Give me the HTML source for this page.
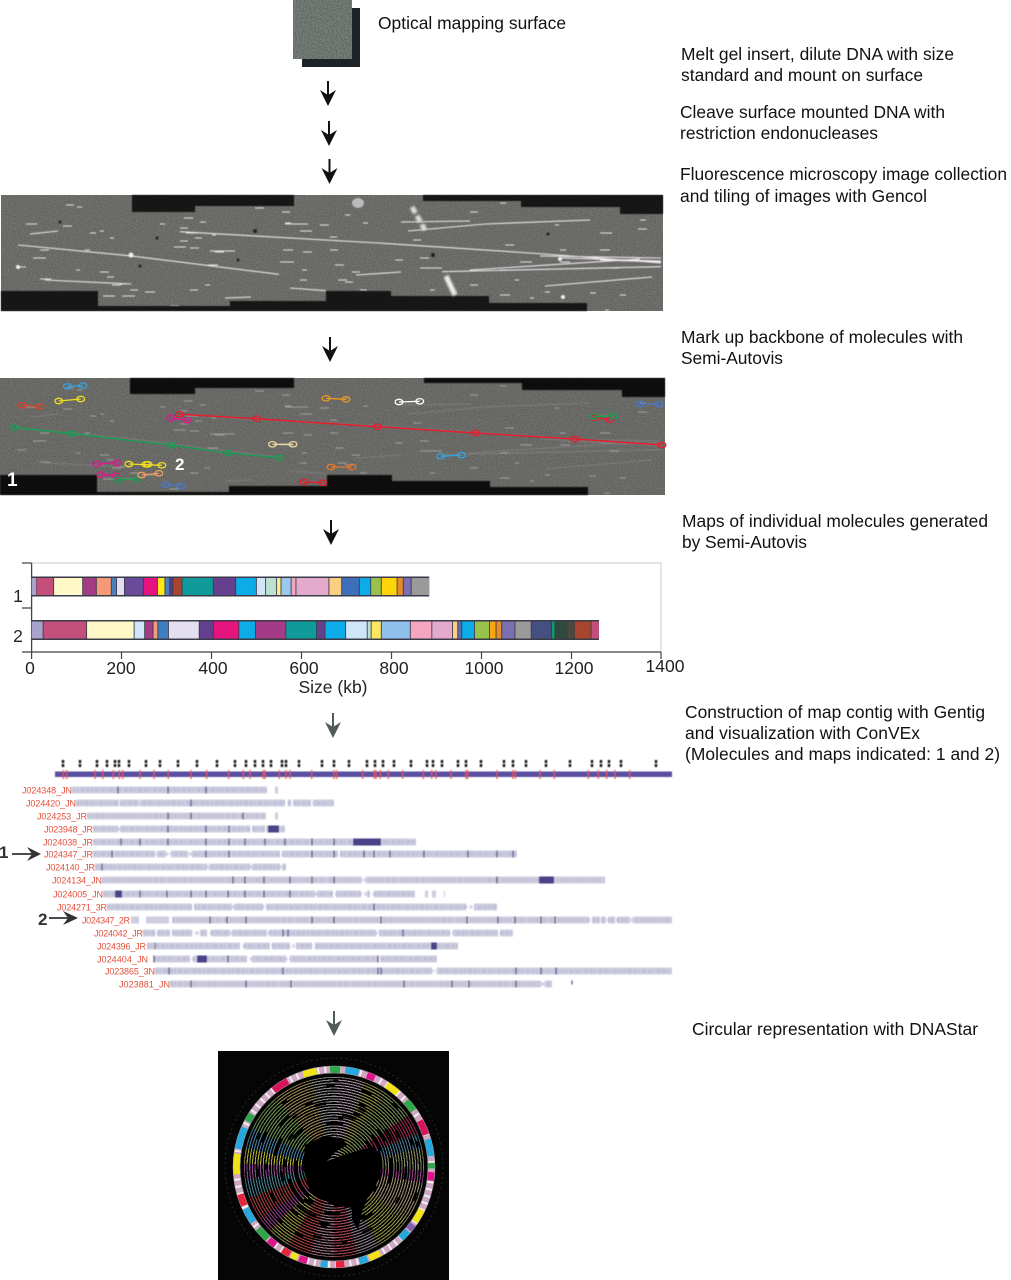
<!DOCTYPE html>
<html><head><meta charset="utf-8"><title>Optical mapping workflow</title>
<style>
html,body{margin:0;padding:0;background:#fff}
#p{position:relative;width:1011px;height:1280px;overflow:hidden;background:#fff}
svg{position:absolute;left:0;top:0}
#c{position:absolute;left:244px;top:1077px;width:180px;height:180px;border-radius:50%;opacity:.85;filter:blur(.35px);
background:repeating-radial-gradient(circle at center,rgba(0,0,0,0) 0 1.1px,#000 1.1px 2.7px),
conic-gradient(#b8a0b0 0 20deg,#a8a858 20deg 35deg,#8aa060 35deg 55deg,#b03058 55deg 68deg,#4f88a8 68deg 78deg,#9a9a70 78deg 92deg,#a84898 92deg 100deg,#b0a080 100deg 125deg,#a8a850 125deg 150deg,#a090a0 150deg 165deg,#c05060 165deg 180deg,#b08090 180deg 195deg,#c04848 195deg 210deg,#a8a850 210deg 225deg,#a84898 225deg 235deg,#c04848 235deg 250deg,#5090a0 250deg 262deg,#a050a0 262deg 272deg,#c8c838 272deg 282deg,#4f90b8 282deg 295deg,#80a860 295deg 320deg,#b09a60 320deg 345deg,#a0a0a0 345deg 360deg)}
.t{font:17.4px "Liberation Sans",sans-serif;fill:#111}
.a{font:17.5px "Liberation Sans",sans-serif;fill:#222}
.r{font:9px "Liberation Sans",sans-serif;fill:#e4503c}
.m ellipse{rx:3.900px;ry:2.700px}
</style></head><body><div id="p">
<svg width="1011" height="1280" viewBox="0 0 1011 1280">
<defs>
<filter id="g" x="0" y="0" width="100%" height="100%"><feTurbulence type="fractalNoise" baseFrequency=".85" numOctaves="2" seed="4"/><feColorMatrix values="0 0 0 0 0 0 0 0 0 0 0 0 0 0 0 1.6 0 0 0 -.55"/></filter>
<filter id="b"><feGaussianBlur stdDeviation=".45"/></filter>
<filter id="b2"><feGaussianBlur stdDeviation="1"/></filter>
<g id="arr"><path d="M0 0V15" stroke="#111" stroke-width="2" fill="none"/><path d="M-8 9L0 14L8 9L0 25Z" fill="#111"/></g>
<g id="arg"><path d="M0 0V15" stroke="#4f5a5a" stroke-width="2" fill="none"/><path d="M-8 9L0 14L8 9L0 25Z" fill="#4f5a5a"/></g>
<path id="dash" fill="none" stroke="#e4e4e4" stroke-width="1" d="M66 205h8M77 207h5M26 224h11M63 226h9M90 233h6M100 231h4M184 218h9M200 222h6M186 233h12M212 235h4M174 247h12M215 252h9M195 238h7M255 208h9M282 212h8M285 223h6M285 224h23M300 231h12M320 225h9M330 237h7M345 215h5M363 223h5M283 250h10M303 252h9M280 262h14M330 250h8M335 265h9M302 270h5M40 250h9M85 250h5M33 258h13M17 267h9M76 270h4M110 238h4M160 224h5M180 228h8M180 241h8M190 248h9M210 251h25M208 265h10M300 280h7M338 280h9M352 272h8M100 272h9M40 279h11M107 277h7M112 285h9M120 284h4M130 290h8M103 296h12M122 296h13M145 292h10M170 306h9M190 290h8M205 285h5M345 282h8M360 290h7M420 268h22M470 212h8M500 203h6M555 225h4M600 233h12M640 220h6M638 229h9M505 245h9M560 250h6M610 268h9M500 270h8M515 280h4M500 295h10M530 298h4M545 292h5M590 293h6M605 310h4M620 295h6M430 290h5M470 285h8M520 262h12M560 262h10M600 250h10M413 240h8M420 258h9M395 260h8"/>
<path id="long" fill="none" stroke="#eee8ee" stroke-width="1.100" d="M18 245L129 255.700L279 274.300M180 231.700L378 243L545 254L661 263M485 224L590 220M408 231L485 224M401 222L470 221M442 271.700L661 266.700M545 286L652 277M45 280L131 284M30 234L58 231M356 275L401 272M540 256L661 258M560 258L661 261M600 260L661 262M470 270L640 259M290 288L326 290.700M225 298L251 297"/>
</defs>

<!-- surface square -->
<rect x="302" y="8" width="58" height="59" fill="#1c2226"/>
<rect x="293" y="0" width="59" height="59" fill="#7b857f"/>
<rect x="293" y="0" width="59" height="59" filter="url(#g)" opacity=".45"/>

<text class="t" x="378" y="29" textLength="188">Optical mapping surface</text>
<text class="t" x="681" y="60" textLength="273">Melt gel insert, dilute DNA with size</text>
<text class="t" x="681" y="81" textLength="242">standard and mount on surface</text>
<text class="t" x="680" y="118" textLength="265">Cleave surface mounted DNA with</text>
<text class="t" x="680" y="139" textLength="198">restriction endonucleases</text>
<text class="t" x="680" y="180" textLength="327">Fluorescence microscopy image collection</text>
<text class="t" x="680" y="202" textLength="247">and tiling of images with Gencol</text>
<text class="t" x="681" y="343" textLength="282">Mark up backbone of molecules with</text>
<text class="t" x="681" y="364" textLength="102">Semi-Autovis</text>
<text class="t" x="682" y="527" textLength="306">Maps of individual molecules generated</text>
<text class="t" x="682" y="548" textLength="125">by Semi-Autovis</text>
<text class="t" x="685" y="718" textLength="300">Construction of map contig with Gentig</text>
<text class="t" x="685" y="739" textLength="235">and visualization with ConVEx</text>
<text class="t" x="685" y="760" textLength="315">(Molecules and maps indicated: 1 and 2)</text>
<text class="t" x="692" y="1035" textLength="286">Circular representation with DNAStar</text>

<use href="#arr" x="328" y="81"/><use href="#arr" x="329" y="121"/><use href="#arr" x="329.500" y="159"/>
<use href="#arr" x="330" y="337"/><use href="#arr" x="331" y="520"/><use href="#arg" x="333" y="713"/><use href="#arg" x="334" y="1011"/>

<!-- panel 1 -->
<rect x="1" y="195" width="662" height="116" fill="#747470"/>
<rect x="1" y="195" width="662" height="116" filter="url(#g)" opacity=".3"/>
<g filter="url(#b)"><use href="#dash"/><use href="#long"/></g>
<g fill="#181818" filter="url(#b)">
<path d="M132 195H294V206H195V212H132Z"/>
<path d="M423 195H663V214H620V207H521V201H423Z"/>
<path d="M1 291H98V306H230V301H326V291H391V296H489V303H587V311H1Z"/>
</g>
<g filter="url(#b)"><g fill="#eee"><circle cx="131" cy="255" r="2.500"/><circle cx="560" cy="259" r="2"/><circle cx="563" cy="297" r="2"/><circle cx="18" cy="267" r="2"/><ellipse cx="358" cy="203" rx="6" ry="5" fill="#bbb"/></g>
<g fill="#222"><circle cx="60" cy="222" r="1.500"/><circle cx="255" cy="231" r="2"/><circle cx="157" cy="238" r="1.500"/><circle cx="238" cy="260" r="1.500"/><circle cx="433" cy="255" r="2"/><circle cx="140" cy="266" r="1.500"/><circle cx="548" cy="234" r="1.500"/></g></g>
<g filter="url(#b2)"><path d="M412 207L425 230" stroke="#ddd" stroke-width="5" stroke-dasharray="7 3"/>
<path d="M446 276L455 295" stroke="#eee" stroke-width="5"/></g>

<!-- panel 2 -->
<rect x="0" y="378" width="665" height="117" fill="#72726f"/>
<rect x="0" y="378" width="665" height="117" filter="url(#g)" opacity=".3"/>
<g filter="url(#b)"><use href="#dash" x="0" y="183" opacity=".45"/><use href="#long" x="0" y="183" opacity=".15"/></g>
<g fill="#0d0d0d" filter="url(#b)">
<path d="M130 378H294V388H195V394H130Z"/>
<path d="M424 378H665V397H622V390H522V383H424Z"/>
<path d="M0 475H97V492H229V486H327V475H392V481H490V487H588V495H0Z"/>
</g>
<g class="m" fill="none" stroke-width="1.300">
<g stroke="#34a4dc"><path d="M67.400 386.300L82.800 385.700"/><ellipse cx="67.400" cy="386.300"/><ellipse cx="82.800" cy="385.700"/>
<path d="M440.800 456.300L461.400 455"/><ellipse cx="440.800" cy="456.300"/><ellipse cx="461.400" cy="455"/></g>
<g stroke="#f0e020"><path d="M58.800 401L80.700 399"/><ellipse cx="58.800" cy="401"/><ellipse cx="80.700" cy="399"/>
<path d="M128.800 464L161.800 465.300"/><ellipse cx="128.800" cy="464"/><ellipse cx="146" cy="464.300"/><ellipse cx="148" cy="464.300"/><ellipse cx="161.800" cy="465.300"/></g>
<g stroke="#d8452c"><path d="M22.300 405.300L40 406.700"/><ellipse cx="22.300" cy="405.300"/><ellipse cx="40" cy="406.700"/></g>
<g stroke="#e81c2c"><path d="M179.400 414.300L256.700 418.700L377.700 426.700L475.500 433L575 439L662 445" stroke-width="1.500"/><ellipse cx="179.400" cy="414.300"/><ellipse cx="256.700" cy="418.700"/><ellipse cx="377.700" cy="426.700"/><ellipse cx="475.500" cy="433"/><ellipse cx="575" cy="439"/><ellipse cx="662" cy="445"/>
<path d="M595 417.700L610 419.700"/><ellipse cx="595" cy="417.700"/><ellipse cx="610" cy="419.700"/>
<path d="M304 482L322.700 482.700"/><ellipse cx="304" cy="482"/><ellipse cx="322.700" cy="482.700"/></g>
<g stroke="#e0188c"><path d="M170.800 418L187 420.300"/><ellipse cx="170.800" cy="418"/><ellipse cx="187" cy="420.300"/>
<path d="M96.600 464L116.700 463"/><ellipse cx="96.600" cy="464"/><ellipse cx="116.700" cy="463"/>
<path d="M100.900 474.700L115.900 475.700"/><ellipse cx="100.900" cy="474.700"/><ellipse cx="115.900" cy="475.700"/></g>
<g stroke="#14a050"><path d="M14 427.300L72 433.700L171.700 445.300L228.300 453L279 457.700"/><ellipse cx="14" cy="427.300"/><ellipse cx="72" cy="433.700"/><ellipse cx="171.700" cy="445.300"/><ellipse cx="228.300" cy="453"/><ellipse cx="279" cy="457.700"/>
<path d="M594.400 416.700L613.700 415.700"/><ellipse cx="594.400" cy="416.700"/><ellipse cx="613.700" cy="415.700"/>
<path d="M118 479.700L137.300 479"/><ellipse cx="118" cy="479.700"/><ellipse cx="137.300" cy="479"/></g>
<g stroke="#ec9a20"><path d="M326 398.300L346 399.300"/><ellipse cx="326" cy="398.300"/><ellipse cx="346" cy="399.300"/></g>
<g stroke="#fff"><path d="M399 402L419.700 401.300"/><ellipse cx="399" cy="402"/><ellipse cx="419.700" cy="401.300"/></g>
<g stroke="#4a78c8"><path d="M640 404L659 404.300"/><ellipse cx="640" cy="404"/><ellipse cx="659" cy="404.300"/>
<path d="M165.700 484.700L181 486"/><ellipse cx="165.700" cy="484.700"/><ellipse cx="181" cy="486"/></g>
<g stroke="#f0d8a0"><path d="M272.500 444.300L293 444.300"/><ellipse cx="272.500" cy="444.300"/><ellipse cx="293" cy="444.300"/></g>
<g stroke="#e87828"><path d="M331 467L352 467"/><ellipse cx="331" cy="467"/><ellipse cx="352" cy="467"/></g>
<g stroke="#f0a060"><path d="M141.600 475L158.800 473.300"/><ellipse cx="141.600" cy="475"/><ellipse cx="158.800" cy="473.300"/></g>
</g>
<text x="7" y="486" font-family="Liberation Sans" font-weight="bold" font-size="19" fill="#fff">1</text>
<text x="175" y="470" font-family="Liberation Sans" font-weight="bold" font-size="17" fill="#fff">2</text>

<!-- chart -->
<path d="M31.600 563H661V652" fill="none" stroke="#c8c8c8" stroke-width="1"/>
<path d="M31.600 563V652H661" fill="none" stroke="#444" stroke-width="1.300"/>
<path d="M22 563H31.600M22 608H31.600M22 652H31.600M31.600 652v7M121.500 652v7M211.500 652v7M301.500 652v7M391.500 652v7M481.500 652v7M571.500 652v7M661 652v7" fill="none" stroke="#444" stroke-width="1.200"/>
<g transform="scale(.43975 1)" stroke="none">
<rect x="72" y="576.500" width="904" height="20" fill="#3a3a48"/><rect x="72" y="620" width="1290" height="20" fill="#3a3a48"/>
<g transform="translate(0,578) scale(1,17)">
<rect x="72" width="10" height="1" fill="#a9a3cb"/><rect x="83" width="38" height="1" fill="#c2507a"/><rect x="123" width="64" height="1" fill="#fff9c8"/><rect x="189" width="29" height="1" fill="#a33b86"/><rect x="220" width="32" height="1" fill="#f59a78"/><rect x="254" width="10" height="1" fill="#4a7fc1"/><rect x="266" width="16" height="1" fill="#e4dff0"/><rect x="284" width="41" height="1" fill="#6a4a9a"/><rect x="327" width="30" height="1" fill="#e6147e"/><rect x="359" width="15" height="1" fill="#ffe81a"/><rect x="376" width="9" height="1" fill="#4a7fc1"/><rect x="387" width="5" height="1" fill="#5c3a8a"/><rect x="394" width="19" height="1" fill="#a8452f"/><rect x="415" width="69" height="1" fill="#0e9b9a"/><rect x="486" width="49" height="1" fill="#65408f"/><rect x="537" width="45" height="1" fill="#0bace8"/><rect x="584" width="19" height="1" fill="#cfe6f8"/><rect x="605" width="23" height="1" fill="#bde0d0"/><rect x="630" width="8" height="1" fill="#f8ef90"/><rect x="640" width="21" height="1" fill="#9cc8ee"/><rect x="663" width="9" height="1" fill="#f4a6c0"/><rect x="674" width="73" height="1" fill="#e4aacb"/><rect x="749" width="27" height="1" fill="#fbce80"/><rect x="778" width="38" height="1" fill="#3d6fbb"/><rect x="818" width="24" height="1" fill="#0bace8"/><rect x="844" width="22" height="1" fill="#98c24a"/><rect x="868" width="34" height="1" fill="#ffd40a"/><rect x="904" width="12" height="1" fill="#e88a2a"/><rect x="918" width="16" height="1" fill="#7a6fb0"/><rect x="936" width="40" height="1" fill="#9a9a9a"/>
</g>
<g transform="translate(0,621.500) scale(1,17)">
<rect x="72" width="25" height="1" fill="#a9a3cb"/><rect x="99" width="97" height="1" fill="#c2507a"/><rect x="198" width="106" height="1" fill="#fff9c8"/><rect x="306" width="22" height="1" fill="#cfe6f8"/><rect x="330" width="17" height="1" fill="#a33b86"/><rect x="349" width="9" height="1" fill="#f59a78"/><rect x="360" width="22" height="1" fill="#3d7fc1"/><rect x="384" width="68" height="1" fill="#e4dff0"/><rect x="454" width="30" height="1" fill="#65408f"/><rect x="486" width="56" height="1" fill="#e6147e"/><rect x="544" width="36" height="1" fill="#0bace8"/><rect x="582" width="67" height="1" fill="#a33b86"/><rect x="651" width="68" height="1" fill="#0e9b9a"/><rect x="721" width="17" height="1" fill="#65408f"/><rect x="740" width="45" height="1" fill="#0bace8"/><rect x="787" width="47" height="1" fill="#cfe6f8"/><rect x="836" width="7" height="1" fill="#bde0d0"/><rect x="845" width="21" height="1" fill="#ffe860"/><rect x="868" width="64" height="1" fill="#8fc0ec"/><rect x="934" width="47" height="1" fill="#f4a6c0"/><rect x="983" width="45" height="1" fill="#e4aacb"/><rect x="1030" width="10" height="1" fill="#fbce80"/><rect x="1042" width="7" height="1" fill="#5a6fb8"/><rect x="1051" width="27" height="1" fill="#0bace8"/><rect x="1080" width="32" height="1" fill="#98c24a"/><rect x="1114" width="13" height="1" fill="#f5a810"/><rect x="1129" width="11" height="1" fill="#e88a2a"/><rect x="1142" width="28" height="1" fill="#7a6fb0"/><rect x="1172" width="35" height="1" fill="#9a9a9a"/><rect x="1209" width="44" height="1" fill="#44507f"/><rect x="1255" width="6" height="1" fill="#0e9b6a"/><rect x="1263" width="25" height="1" fill="#2f4a3a"/><rect x="1290" width="15" height="1" fill="#4a4a3a"/><rect x="1307" width="36" height="1" fill="#a8452f"/><rect x="1345" width="17" height="1" fill="#c2507a"/>
</g>
</g>
<text class="a" x="18" y="602" text-anchor="middle">1</text><text class="a" x="18" y="642" text-anchor="middle">2</text>
<g text-anchor="middle"><text class="a" x="30" y="674">0</text><text class="a" x="121" y="674">200</text><text class="a" x="213" y="674">400</text><text class="a" x="304" y="674">600</text><text class="a" x="394" y="674">800</text><text class="a" x="484" y="674">1000</text><text class="a" x="574" y="674">1200</text><text class="a" x="665" y="672">1400</text><text class="a" x="333" y="693">Size (kb)</text></g>

<!-- contig -->
<g filter="url(#b)">
<path stroke="#111" stroke-width="2.400" stroke-dasharray="3 1" fill="none" d="M63 760v7M80 760v7M97 760v7M107 760v7M115 760v7M119 760v7M129 760v7M146 760v7M160 760v7M178 760v7M197 760v7M217 760v7M235 760v7M246 760v7M255 760v7M263 760v7M271 760v7M282 760v7M286 760v7M299 760v7M322 760v7M334 760v7M349 760v7M367 760v7M375 760v7M383 760v7M394 760v7M411 760v7M427 760v7M433 760v7M442 760v7M458 760v7M466 760v7M481 760v7M504 760v7M513 760v7M526 760v7M546 760v7M570 760v7M592 760v7M601 760v7M609 760v7M621 760v7M656 760v7"/>
<rect x="55" y="771.500" width="617" height="5.500" fill="#5a4fa0"/>
<path stroke="#e8504a" stroke-width="1.200" fill="none" d="M63.300 770v9M66.700 770v9M95 770v9M102.700 770v9M113.300 770v9M119.300 770v9M122.700 770v9M140 770v9M154 770v9M168.300 770v9M191 770v9M206.700 770v9M228.700 770v9M243.300 770v9M250 770v9M263.300 770v9M265 770v9M279.300 770v9M286 770v9M290 770v9M311.700 770v9M334 770v9M336.700 770v9M362.700 770v9M374.300 770v9M376 770v9M380.300 770v9M388.300 770v9M402.700 770v9M423.300 770v9M431.700 770v9M436 770v9M451 770v9M466 770v9M467.700 770v9M497 770v9M512.700 770v9M515.300 770v9M540 770v9M554.300 770v9M588.300 770v9M598.300 770v9M606.700 770v9M615 770v9M629.700 770v9"/>
<path fill="none" stroke="#cdcde0" stroke-width="7" d="M72 790H267M275 790H278M76 803H119M120 803H139M140 803H285M288 803H291M293 803H311M313 803H334M87 816H266M275 816H278M93 829H118M120 829H250M252 829H265M266 829H285M93 842H416M93 854H155M157 854H166M171 854H188M192 854H280M282 854H338M340 854H517M95 867H207M209 867H250M252 867H280M282 867H286M102 880H362M366 880H605M103 894H315M317 894H333M336 894H361M367 894H370M374 894H415M425 894H428M432 894H436M444 894H445M107 907H192M194 907H232M234 907H263M266 907H466M474 907H497M131 920H139M146 920H169M172 920H589M592 920H600M601 920H606M608 920H615M617 920H630M633 920H672M143 933H155M157 933H170M172 933H192M200 933H207M211 933H230M232 933H267M269 933H376M379 933H450M453 933H498M500 933H513M147 946H154M156 946H240M244 946H270M272 946H290M296 946H312M315 946H458M154 959H190M193 959H247M252 959H270M270 959H286M290 959H378M380 959H437M155 971H432M437 971H672M170 984H541M545 984H552"/>
<path fill="none" stroke="#b4b4ce" stroke-width="3.500" opacity=".55" stroke-dasharray="3 1.500 1.500 2.500 4 2" d="M72 790H267M76 803H334M87 816H266M93 829H285M93 842H416M93 854H517M95 867H286M102 880H605M103 894H415M107 907H497M172 920H672M143 933H513M147 946H458M154 959H437M155 971H672M170 984H552"/>
<g fill="#4a4288"><rect x="268" y="825.500" width="11" height="7"/><rect x="353" y="838.500" width="28" height="7"/><rect x="539" y="876.500" width="15" height="7"/><rect x="115" y="890.500" width="7" height="7"/><rect x="431" y="942.500" width="6" height="7"/><rect x="197" y="955.500" width="10" height="7"/></g>
<path fill="none" stroke="#3e3a7a" stroke-width="1.300" opacity=".85" d="M118 786.500v7M168 786.500v7M206 786.500v7M191 799.500v7M168 812.500v7M191 812.500v7M243 812.500v7M168 825.500v7M206 825.500v7M229 825.500v7M121 838.500v7M140 838.500v7M168 838.500v7M206 838.500v7M229 838.500v7M245 838.500v7M265 838.500v7M285 838.500v7M312 838.500v7M334 838.500v7M112 850.500v7M206 850.500v7M229 850.500v7M312 850.500v7M334 850.500v7M364 850.500v7M374 850.500v7M390 850.500v7M424 850.500v7M468 850.500v7M497 850.500v7M513 850.500v7M102 863.500v7M233 876.500v7M245 876.500v7M264 876.500v7M290 876.500v7M312 876.500v7M334 876.500v7M497 876.500v7M140 890.500v7M167 890.500v7M191 890.500v7M206 890.500v7M228 890.500v7M245 890.500v7M264 890.500v7M290 890.500v7M374 903.500v7M210 916.500v7M227 916.500v7M246 916.500v7M312 916.500v7M334 916.500v7M381 916.500v7M467 916.500v7M498 916.500v7M515 916.500v7M541 916.500v7M555 916.500v7M283 929.500v7M288 929.500v7M403 929.500v7M155 942.500v7M228 955.500v7M154 955.500v7M378 955.500v7M169 967.500v7M283 967.500v7M378 967.500v7M381 967.500v7M516 967.500v7M541 967.500v7M556 967.500v7M191 980.500v7M246 980.500v7M291 980.500v7M404 980.500v7M452 980.500v7M469 980.500v7M516 980.500v7M572 980.500v4"/>
</g>
<g>
<text class="r" x="22" y="793.500" textLength="50">J024348_JN</text>
<text class="r" x="26" y="806.500" textLength="50">J024420_JN</text>
<text class="r" x="37" y="819.500" textLength="50">J024253_JR</text>
<text class="r" x="44" y="832.500" textLength="49">J023948_JR</text>
<text class="r" x="43" y="845.500" textLength="50">J024038_JR</text>
<text class="r" x="44" y="857.500" textLength="49">J024347_JR</text>
<text class="r" x="46" y="870.500" textLength="49">J024140_JR</text>
<text class="r" x="52" y="883.500" textLength="50">J024134_JN</text>
<text class="r" x="53" y="897.500" textLength="50">J024005_JN</text>
<text class="r" x="57" y="910.500" textLength="50">J024271_3R</text>
<text class="r" x="82" y="923.500" textLength="48">J024347_2R</text>
<text class="r" x="94" y="936.500" textLength="49">J024042_JR</text>
<text class="r" x="97" y="949.500" textLength="49">J024396_JR</text>
<text class="r" x="97" y="962.500" textLength="51">J024404_JN</text>
<text class="r" x="105" y="974.500" textLength="50">J023865_3N</text>
<text class="r" x="119" y="987.500" textLength="51">J023881_JN</text>
</g>
<text x="-1" y="858" font-family="Liberation Sans" font-weight="bold" font-size="17" fill="#333">1</text>
<text x="38" y="925" font-family="Liberation Sans" font-weight="bold" font-size="17" fill="#333">2</text>
<path d="M12 854H32" stroke="#333" stroke-width="1.800"/><path d="M27 847L32 854L27 861L41 854Z" fill="#333"/>
<path d="M49 918H68" stroke="#333" stroke-width="1.800"/><path d="M63 911L68 918L63 925L78 918Z" fill="#333"/>

<!-- circular panel -->
<rect x="218" y="1051" width="231" height="229" fill="#050505"/>
</svg>
<div id="c"></div>
<svg width="1011" height="1280" viewBox="0 0 1011 1280">
<g fill="none" stroke="#000" stroke-width="2.800">
<circle cx="334" cy="1167" r="38" pathLength="360" stroke-dasharray="90 40 60 170"/>
<circle cx="334" cy="1167" r="41" pathLength="360" stroke-dasharray="15 8 40 12 25 60 9 191" stroke-dashoffset="40"/>
<circle cx="334" cy="1167" r="44" pathLength="360" stroke-dasharray="22 50 9 40 30 70 12 127" stroke-dashoffset="100"/>
<circle cx="334" cy="1167" r="47" pathLength="360" stroke-dasharray="14 30 8 50 20 28 35 175" stroke-dashoffset="20"/>
<circle cx="334" cy="1167" r="50" pathLength="360" stroke-dasharray="9 26 16 44 6 38 22 199" stroke-dashoffset="180"/>
<circle cx="334" cy="1167" r="53" pathLength="360" stroke-dasharray="24 30 12 35 8 60 16 175" stroke-dashoffset="250"/>
<circle cx="334" cy="1167" r="57" pathLength="360" stroke-dasharray="7 22 14 18 26 40 8 30 10 185" stroke-dashoffset="70"/>
<circle cx="334" cy="1167" r="60" pathLength="360" stroke-dasharray="12 35 6 24 9 55 18 201" stroke-dashoffset="310"/>
<circle cx="334" cy="1167" r="64" pathLength="360" stroke-dasharray="5 18 10 30 7 24 12 20 8 226" stroke-dashoffset="130"/>
<circle cx="334" cy="1167" r="68" pathLength="360" stroke-dasharray="8 20 5 34 12 16 7 40 6 212" stroke-dashoffset="210"/>
<circle cx="334" cy="1167" r="72" pathLength="360" stroke-dasharray="6 24 10 15 5 28 9 33 7 223" stroke-dashoffset="30"/>
<circle cx="334" cy="1167" r="76" pathLength="360" stroke-dasharray="4 30 7 12 5 35 6 20 9 232" stroke-dashoffset="280"/>
<circle cx="334" cy="1167" r="81" pathLength="360" stroke-dasharray="5 26 4 30 6 19 8 42 5 215" stroke-dashoffset="160"/>
<circle cx="334" cy="1167" r="86" pathLength="360" stroke-dasharray="3 40 5 25 4 30 6 247" stroke-dashoffset="90"/>
</g>
<path fill="#000" d="M303 1168L305 1145L323 1136L342 1138L347 1145L335 1152L327 1161L350 1153L373 1147L382 1158L380 1178L370 1192L362 1212L358 1230L352 1220L352 1208L333 1205L310 1192Z"/>
<circle cx="334" cy="1167" r="97.500" fill="none" stroke="#d0a8c4" stroke-width="6.500"/>
<circle cx="334" cy="1167" r="97.500" fill="none" stroke="#f4eef2" stroke-width="6.500" pathLength="360" stroke-dasharray="1.200 3"/>
<circle cx="334" cy="1167" r="101" fill="none" stroke="#bbb" stroke-width=".5"/>
<circle cx="334" cy="1167" r="94" fill="none" stroke="#bbb" stroke-width=".5"/>
<circle cx="334" cy="1167" r="109" fill="none" stroke="#3a3a3a" stroke-width=".6" stroke-dasharray="2 3"/>
<g fill="none" stroke-width="6.500">
<circle cx="334" cy="1167" r="97.500" pathLength="360" stroke="#f2e414" stroke-dasharray="12 348" stroke-dashoffset="-176"/>
<circle cx="334" cy="1167" r="97.500" pathLength="360" stroke="#25a8df" stroke-dasharray="13 347" stroke-dashoffset="-191"/>
<circle cx="334" cy="1167" r="97.500" pathLength="360" stroke="#2ea84a" stroke-dasharray="5 355" stroke-dashoffset="-208"/>
<circle cx="334" cy="1167" r="97.500" pathLength="360" stroke="#d8145c" stroke-dasharray="10 350" stroke-dashoffset="-232"/>
<circle cx="334" cy="1167" r="97.500" pathLength="360" stroke="#f2e414" stroke-dasharray="8 352" stroke-dashoffset="-252"/>
<circle cx="334" cy="1167" r="97.500" pathLength="360" stroke="#2ea84a" stroke-dasharray="6 354" stroke-dashoffset="-268"/>
<circle cx="334" cy="1167" r="97.500" pathLength="360" stroke="#25a8df" stroke-dasharray="8 352" stroke-dashoffset="-277"/>
<circle cx="334" cy="1167" r="97.500" pathLength="360" stroke="#e0148c" stroke-dasharray="5 355" stroke-dashoffset="-290"/>
<circle cx="334" cy="1167" r="97.500" pathLength="360" stroke="#f2e414" stroke-dasharray="8 352" stroke-dashoffset="-303"/>
<circle cx="334" cy="1167" r="97.500" pathLength="360" stroke="#2ea84a" stroke-dasharray="7 353" stroke-dashoffset="-318"/>
<circle cx="334" cy="1167" r="97.500" pathLength="360" stroke="#d8145c" stroke-dasharray="9 351" stroke-dashoffset="-332"/>
<circle cx="334" cy="1167" r="97.500" pathLength="360" stroke="#25a8df" stroke-dasharray="10 350" stroke-dashoffset="-344"/>
<circle cx="334" cy="1167" r="97.500" pathLength="360" stroke="#2ea84a" stroke-dasharray="3 357" stroke-dashoffset="-358"/>
<circle cx="334" cy="1167" r="97.500" pathLength="360" stroke="#e0148c" stroke-dasharray="5 355" stroke-dashoffset="-3"/>
<circle cx="334" cy="1167" r="97.500" pathLength="360" stroke="#f2e414" stroke-dasharray="8 352" stroke-dashoffset="-26"/>
<circle cx="334" cy="1167" r="97.500" pathLength="360" stroke="#8060b0" stroke-dasharray="4 356" stroke-dashoffset="-36"/>
<circle cx="334" cy="1167" r="97.500" pathLength="360" stroke="#25a8df" stroke-dasharray="6 354" stroke-dashoffset="-41"/>
<circle cx="334" cy="1167" r="97.500" pathLength="360" stroke="#f2e414" stroke-dasharray="7 353" stroke-dashoffset="-62"/>
<circle cx="334" cy="1167" r="97.500" pathLength="360" stroke="#25a8df" stroke-dasharray="5 355" stroke-dashoffset="-70"/>
<circle cx="334" cy="1167" r="97.500" pathLength="360" stroke="#e8243c" stroke-dasharray="5 355" stroke-dashoffset="-84"/>
<circle cx="334" cy="1167" r="97.500" pathLength="360" stroke="#25a8df" stroke-dasharray="4 356" stroke-dashoffset="-94"/>
<circle cx="334" cy="1167" r="97.500" pathLength="360" stroke="#e0148c" stroke-dasharray="5 355" stroke-dashoffset="-106"/>
<circle cx="334" cy="1167" r="97.500" pathLength="360" stroke="#f2e414" stroke-dasharray="4 356" stroke-dashoffset="-112"/>
<circle cx="334" cy="1167" r="97.500" pathLength="360" stroke="#e8243c" stroke-dasharray="5 355" stroke-dashoffset="-117"/>
<circle cx="334" cy="1167" r="97.500" pathLength="360" stroke="#e0148c" stroke-dasharray="5 355" stroke-dashoffset="-127"/>
<circle cx="334" cy="1167" r="97.500" pathLength="360" stroke="#2ea84a" stroke-dasharray="8 352" stroke-dashoffset="-133"/>
<circle cx="334" cy="1167" r="97.500" pathLength="360" stroke="#25a8df" stroke-dasharray="9 351" stroke-dashoffset="-146"/>
<circle cx="334" cy="1167" r="97.500" pathLength="360" stroke="#e8243c" stroke-dasharray="7 353" stroke-dashoffset="-157"/>
</g>
</svg>
</div></body></html>
